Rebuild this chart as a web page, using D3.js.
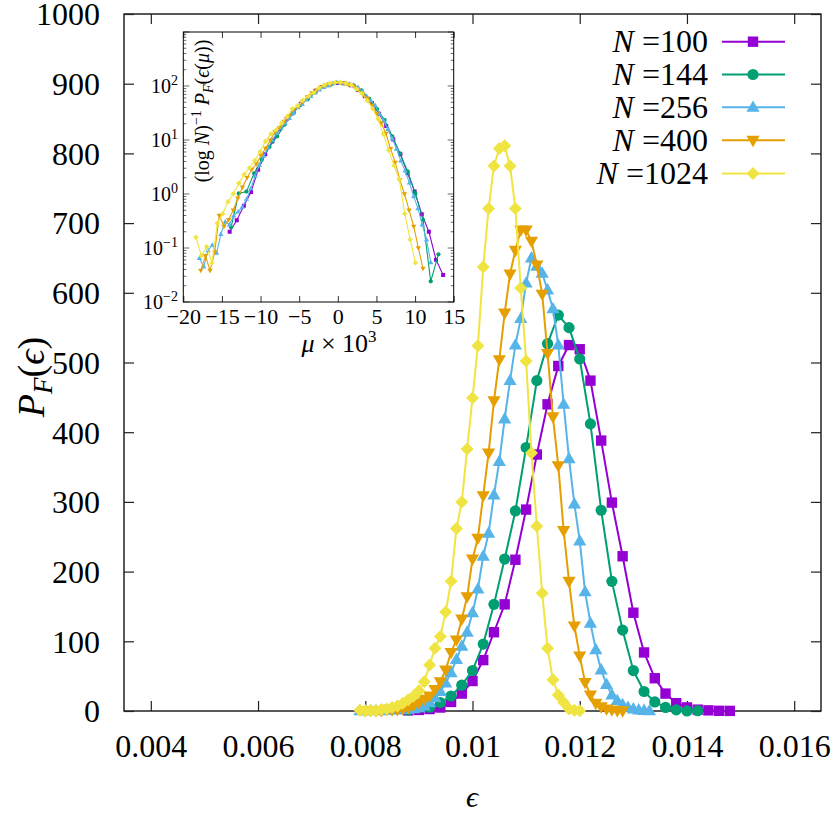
<!DOCTYPE html>
<html><head><meta charset="utf-8">
<script src="https://cdn.jsdelivr.net/npm/d3@7"></script>
<style>
body{margin:0;background:#fff}
svg{display:block}
</style>
</head><body>
<svg id="chart" width="831" height="813"></svg>
<script>
// ---------------- data ----------------
const seriesN = [100, 144, 256, 400, 1024];
const seriesColors = ["#9400d3", "#009e73", "#56b4e9", "#e69f00", "#f0e442"];
const seriesMarkers = ["square", "circle", "triUp", "triDown", "diamond"];

const epsN100 = [0.0088,0.0090,0.0092,0.0094,0.0096,0.0098,0.0100,0.0102,0.0104,0.0106,0.0108,0.0110,0.0112,0.0114,0.0116,0.0118,0.0120,0.0122,0.0124,0.0126,0.0128,0.0130,0.0132,0.0134,0.0136,0.0138,0.0140,0.0142,0.0144,0.0146,0.0148];
const valN100 = [0.92,1.5,2.8,5,13,25,43,73,113,153,217,289,368,440,495,525,519,474,388,299,222,141,84,47,25,11.2,5.1,1.95,0.92,0.28,0.146];

const epsN144 = [0.0088,0.0090,0.0092,0.0094,0.0096,0.0098,0.0100,0.0102,0.0104,0.0106,0.0108,0.0110,0.0112,0.0114,0.0116,0.0118,0.0120,0.0122,0.0124,0.0126,0.0128,0.0130,0.0132,0.0134,0.0136,0.0138,0.0140,0.0142];
const valN144 = [1.2,5.1,5.5,12,21.5,37,58,96,153,218,287,378,474,527,568,550,505,412,288,186,116,58,28,13,5.1,1.64,0.12,0.38];

const epsN256 = [0.0079,0.0080,0.0081,0.0082,0.0083,0.0084,0.0085,0.0086,0.0087,0.0088,0.0089,0.0090,0.0091,0.0092,0.0093,0.0094,0.0095,0.0096,0.0097,0.0098,0.0099,0.0100,0.0101,0.0102,0.0103,0.0104,0.0105,0.0106,0.0107,0.0108,0.0109,0.0110,0.0111,0.0112,0.0113,0.0114,0.0115,0.0116,0.0117,0.0118,0.0119,0.0120,0.0121,0.0122,0.0123,0.0124,0.0125,0.0126,0.0127,0.0128,0.0129,0.0130,0.0131,0.0132,0.0133];
const valN256 = [0.36,0.25,0.5,0.63,0.45,1.0,1.7,1.5,2.2,2.6,3.2,4.5,7,12,19,28,40,55,74,93,113,141,175,222,255,310,358,419,474,525,563,614,650,638,628,604,577,525,440,362,297,244,171,126,88,59,38,23,15,9,5,3,1.5,0.8,0.3];

const epsN400 = [0.0080,0.0081,0.0082,0.0083,0.0084,0.0085,0.0086,0.0087,0.0088,0.0089,0.0090,0.0091,0.0092,0.0093,0.0094,0.0095,0.0096,0.0097,0.0098,0.0099,0.0100,0.0101,0.0102,0.0103,0.0104,0.0105,0.0106,0.0107,0.0108,0.0109,0.0110,0.0111,0.0112,0.0113,0.0114,0.0115,0.0116,0.0117,0.0118,0.0119,0.0120,0.0121,0.0122,0.0123,0.0124,0.0125,0.0126,0.0127,0.0128];
const valN400 = [0.23,0.43,0.23,0.5,2.4,1.5,2,3,5,8,12,17,21.5,31,42,59,84,102,132,164,218,248,309,370,445,504,571,627,661,690,690,674,640,598,513,422,352,259,186,122,79,41,23,11,6,3,1.5,0.6,0.25];

const epsN1024 = [0.0079,0.0080,0.0081,0.0082,0.0083,0.0084,0.0085,0.0086,0.0087,0.0088,0.0089,0.0090,0.0091,0.0092,0.0093,0.0094,0.0095,0.0096,0.0097,0.0098,0.0099,0.0100,0.0101,0.0102,0.0103,0.0104,0.0105,0.0106,0.0107,0.0108,0.0109,0.0110,0.0111,0.0112,0.0113,0.0114,0.0115,0.0116,0.0117,0.0118,0.0119,0.0120];
const valN1024 = [1.1,0.5,0.73,0.37,2.0,3,5,7,11,16,21,29,42,66,90,107,142,186,262,300,376,449,524,637,721,782,807,811,782,721,607,502,370,265,169,90,45,23,12.7,3,1.0,0.37];

// centre of each distribution used for the inset's mu axis
const insetCenters = [0.01184, 0.01158, 0.01113, 0.01096, 0.01055];

// ticks
const xTickVals = [0.004, 0.006, 0.008, 0.010, 0.012, 0.014, 0.016];
const xTickLabels = ["0.004", "0.006", "0.008", "0.01", "0.012", "0.014", "0.016"];
const yTickVals = [0, 100, 200, 300, 400, 500, 600, 700, 800, 900, 1000];
const insetXTickVals = [-20, -15, -10, -5, 0, 5, 10, 15];
const insetXTickLabels = ["\u221220", "\u221215", "\u221210", "\u22125", "0", "5", "10", "15"];
const insetYExponents = [-2, -1, 0, 1, 2];

const epsArrays = [epsN100, epsN144, epsN256, epsN400, epsN1024];
const valArrays = [valN100, valN144, valN256, valN400, valN1024];

const EPS = "\u03f5";

// ---------------- layout ----------------
const FONT = "Liberation Serif, DejaVu Serif, serif";
const svg = d3.select("#chart").attr("font-family", FONT);
const M = {left: 124, right: 821, top: 14, bottom: 711};
const x = d3.scaleLinear().domain([0.0035, 0.0165]).range([M.left, M.right]);
const y = d3.scaleLinear().domain([0, 1000]).range([M.bottom, M.top]);

const I = {left: 183.3, right: 453.7, top: 32, bottom: 302};
const xi = d3.scaleLinear().domain([-20, 15]).range([I.left, I.right]);
const yi = d3.scaleLog().domain([1e-2, 1e3]).range([I.bottom, I.top]);

function markerPath(type, s) {
  switch (type) {
    case "square": return `M${-s},${-s}h${2*s}v${2*s}h${-2*s}Z`;
    case "circle": return `M${s},0A${s},${s} 0 1,1 ${-s},0A${s},${s} 0 1,1 ${s},0Z`;
    case "triUp": return `M0,${-1.15*s}L${1.1*s},${0.75*s}L${-1.1*s},${0.75*s}Z`;
    case "triDown": return `M0,${1.15*s}L${1.1*s},${-0.75*s}L${-1.1*s},${-0.75*s}Z`;
    case "diamond": return `M0,${-1.25*s}L${1.25*s},0L0,${1.25*s}L${-1.25*s},0Z`;
  }
}
const mainSize = {square: 5.2, circle: 5.6, triUp: 6, triDown: 6, diamond: 5.2};
const insetSize = {square: 2, circle: 2.1, triUp: 2.4, triDown: 2.4, diamond: 2.2};

function txt(sel) { return sel.attr("font-family", FONT).attr("fill", "#000"); }

// ---------------- main axes ----------------
svg.append("rect").attr("x", M.left).attr("y", M.top)
  .attr("width", M.right - M.left).attr("height", M.bottom - M.top)
  .attr("fill", "none").attr("stroke", "#000").attr("stroke-width", 1.3);

const gxB = svg.append("g").attr("transform", `translate(0,${M.bottom})`)
  .call(d3.axisBottom(x).tickValues(xTickVals).tickFormat((d, i) => xTickLabels[i])
    .tickSizeInner(-10).tickSizeOuter(0));
gxB.select(".domain").remove();
gxB.attr("font-family", FONT).attr("font-size", 32);
gxB.selectAll("text").attr("y", 46).attr("dy", null).attr("fill", "#000");
gxB.selectAll("line").attr("stroke", "#222").attr("stroke-width", 1.2);

const gxT = svg.append("g").attr("transform", `translate(0,${M.top})`)
  .call(d3.axisTop(x).tickValues(xTickVals).tickFormat("").tickSizeInner(-10).tickSizeOuter(0));
gxT.select(".domain").remove();
gxT.selectAll("line").attr("stroke", "#222").attr("stroke-width", 1.2);

const gyL = svg.append("g").attr("transform", `translate(${M.left},0)`)
  .call(d3.axisLeft(y).tickValues(yTickVals).tickFormat(d3.format("d"))
    .tickSizeInner(-10).tickSizeOuter(0).tickPadding(24));
gyL.select(".domain").remove();
gyL.attr("font-family", FONT).attr("font-size", 32);
gyL.selectAll("text").attr("dy", "0.34em").attr("fill", "#000");
gyL.selectAll("line").attr("stroke", "#222").attr("stroke-width", 1.2);

const gyR = svg.append("g").attr("transform", `translate(${M.right},0)`)
  .call(d3.axisRight(y).tickValues(yTickVals).tickFormat("").tickSizeInner(-10).tickSizeOuter(0));
gyR.select(".domain").remove();
gyR.selectAll("line").attr("stroke", "#222").attr("stroke-width", 1.2);

// axis titles
txt(svg.append("text")).attr("x", 472).attr("y", 807).attr("text-anchor", "middle")
  .attr("font-size", 30).attr("font-style", "italic").text(EPS);

const yl = txt(svg.append("text")).attr("transform", "translate(44,377) rotate(-90)")
  .attr("text-anchor", "middle").attr("font-size", 38);
yl.append("tspan").attr("font-style", "italic").text("P");
yl.append("tspan").attr("font-style", "italic").attr("font-size", 27).attr("dy", 8).text("F");
yl.append("tspan").attr("dy", -8).text("(");
yl.append("tspan").attr("font-style", "italic").text(EPS);
yl.append("tspan").text(")");

// ---------------- main series ----------------
const line = d3.line().x(d => x(d[0])).y(d => y(d[1]));
seriesN.forEach((n, k) => {
  const pts = epsArrays[k].map((e, i) => [e, valArrays[k][i]]);
  const g = svg.append("g");
  g.append("path").datum(pts).attr("d", line).attr("fill", "none")
    .attr("stroke", seriesColors[k]).attr("stroke-width", 2).attr("stroke-linejoin", "round");
  g.selectAll("path.m").data(pts).enter().append("path").attr("class", "m")
    .attr("transform", d => `translate(${x(d[0])},${y(d[1])})`)
    .attr("d", markerPath(seriesMarkers[k], mainSize[seriesMarkers[k]]))
    .attr("fill", seriesColors[k]);
});

// ---------------- legend ----------------
const legRowY = [41.7, 74.5, 107.3, 140.3, 173.5];
seriesN.forEach((n, k) => {
  const cy = legRowY[k];
  const t = txt(svg.append("text")).attr("x", 708).attr("y", cy).attr("dy", "0.33em")
    .attr("text-anchor", "end").attr("font-size", 32);
  t.append("tspan").attr("font-style", "italic").text("N");
  t.append("tspan").text(" =" + n);
  svg.append("line").attr("x1", 722).attr("x2", 785).attr("y1", cy).attr("y2", cy)
    .attr("stroke", seriesColors[k]).attr("stroke-width", 2);
  svg.append("path").attr("transform", `translate(753,${cy})`)
    .attr("d", markerPath(seriesMarkers[k], mainSize[seriesMarkers[k]]))
    .attr("fill", seriesColors[k]);
});

// ---------------- inset ----------------
const inset = svg.append("g");
inset.append("rect").attr("x", I.left).attr("y", I.top)
  .attr("width", I.right - I.left).attr("height", I.bottom - I.top)
  .attr("fill", "#fff");

svg.append("clipPath").attr("id", "ic").append("rect")
  .attr("x", I.left).attr("y", I.top).attr("width", I.right - I.left).attr("height", I.bottom - I.top);

// x ticks
const gix = inset.append("g").attr("transform", `translate(0,${I.bottom})`)
  .call(d3.axisBottom(xi).tickValues(insetXTickVals).tickFormat((d, i) => insetXTickLabels[i])
    .tickSizeInner(-6).tickSizeOuter(0));
gix.select(".domain").remove();
gix.attr("font-family", FONT).attr("font-size", 22);
gix.selectAll("text").attr("y", 22).attr("dy", null).attr("fill", "#000");
gix.selectAll("line").attr("stroke", "#333");
const gixT = inset.append("g").attr("transform", `translate(0,${I.top})`)
  .call(d3.axisTop(xi).tickValues(insetXTickVals).tickFormat("").tickSizeInner(-6).tickSizeOuter(0));
gixT.select(".domain").remove();
gixT.selectAll("line").attr("stroke", "#333");

// y ticks (log, with minor ticks)
const logTicks = yi.ticks();
const isMajor = v => Math.abs(Math.log10(v) - Math.round(Math.log10(v))) < 1e-6;
[I.left, I.right].forEach((xx, side) => {
  inset.append("g").selectAll("line").data(logTicks).enter().append("line")
    .attr("x1", xx).attr("x2", d => xx + (side === 0 ? 1 : -1) * (isMajor(d) ? 6 : 3))
    .attr("y1", d => yi(d)).attr("y2", d => yi(d))
    .attr("stroke", "#444").attr("stroke-width", 0.8);
});
insetYExponents.forEach(ex => {
  const t = txt(inset.append("text")).attr("x", 178).attr("y", yi(Math.pow(10, ex)))
    .attr("dy", "0.35em").attr("text-anchor", "end").attr("font-size", 20);
  t.append("tspan").text("10");
  t.append("tspan").attr("font-size", 14).attr("dy", -8).text(ex < 0 ? "\u2212" + (-ex) : String(ex));
});

inset.append("rect").attr("x", I.left).attr("y", I.top)
  .attr("width", I.right - I.left).attr("height", I.bottom - I.top)
  .attr("fill", "none").attr("stroke", "#000").attr("stroke-width", 1);

// inset labels
const ixl = txt(inset.append("text")).attr("x", 339).attr("y", 352).attr("text-anchor", "middle")
  .attr("font-size", 26);
ixl.append("tspan").attr("font-style", "italic").text("\u03bc");
ixl.append("tspan").text(" \u00d7 10");
ixl.append("tspan").attr("font-size", 17).attr("dy", -10).text("3");

const iyl = txt(inset.append("text")).attr("transform", "translate(209,111) rotate(-90)")
  .attr("text-anchor", "middle").attr("font-size", 20);
iyl.append("tspan").text("(log ");
iyl.append("tspan").attr("font-style", "italic").text("N");
iyl.append("tspan").text(")");
iyl.append("tspan").attr("font-size", 14).attr("dy", -8).text("\u22121");
iyl.append("tspan").attr("dy", 8).attr("font-style", "italic").text(" P");
iyl.append("tspan").attr("font-style", "italic").attr("font-size", 14).attr("dy", 4).text("F");
iyl.append("tspan").attr("dy", -4).text("(");
iyl.append("tspan").attr("font-style", "italic").text(EPS);
iyl.append("tspan").text("(");
iyl.append("tspan").attr("font-style", "italic").text("\u03bc");
iyl.append("tspan").text("))");

// inset series: mu*1e3 = (eps - centre) * ln N * 1e3 ; value / ln N
const iline = d3.line().x(d => xi(d[0])).y(d => yi(d[1]));
const ig = inset.append("g").attr("clip-path", "url(#ic)");
seriesN.forEach((n, k) => {
  const L = Math.log(n);
  const pts = epsArrays[k].map((e, i) => [(e - insetCenters[k]) * L * 1000, valArrays[k][i] / L])
    .filter(d => d[1] > 0);
  ig.append("path").datum(pts).attr("d", iline).attr("fill", "none")
    .attr("stroke", seriesColors[k]).attr("stroke-width", 1.1);
  ig.selectAll(null).data(pts).enter().append("path")
    .attr("transform", d => `translate(${xi(d[0])},${yi(d[1])})`)
    .attr("d", markerPath(seriesMarkers[k], insetSize[seriesMarkers[k]]))
    .attr("fill", seriesColors[k]);
});
</script>
</body></html>
